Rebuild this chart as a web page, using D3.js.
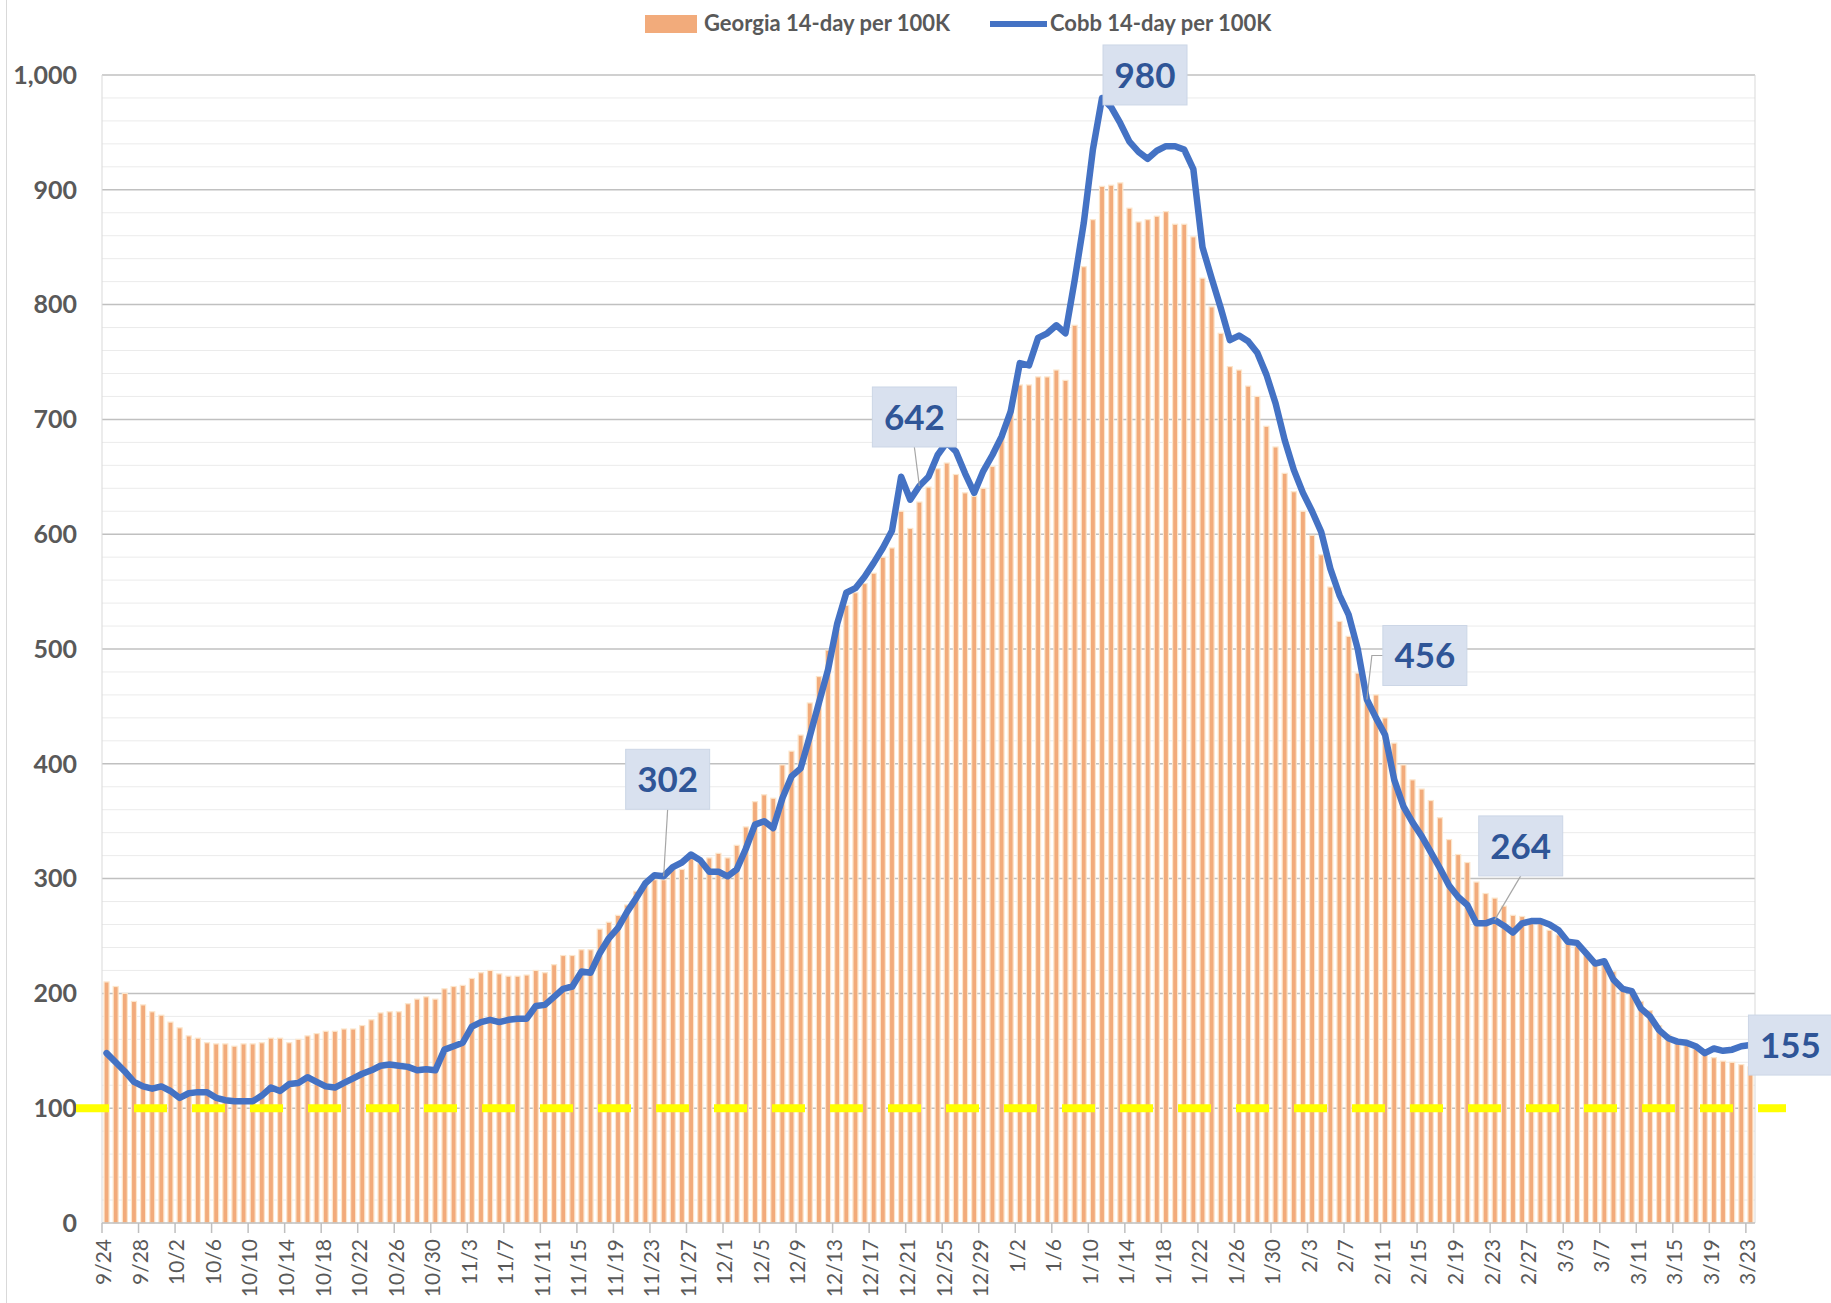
<!DOCTYPE html>
<html>
<head>
<meta charset="utf-8">
<script src="https://cdn.jsdelivr.net/npm/d3@7"></script>
<style>
  body { margin: 0; background: #fff; }
  svg { display: block; font-family: Lato, "Open Sans", sans-serif; }
</style>
</head>
<body>
<div id="chart"></div>
<script>
// categories: one per day, 9/24 to 3/23
const dates = d3.timeDay.range(new Date(2020, 8, 24), new Date(2021, 2, 24))
const fmt = d3.timeFormat("%-m/%-d")
const categories = dates.map(d => fmt(d))
// tick labels every 4 days
const tickIdx = d3.range(0, categories.length, 4)
const tickLabels = tickIdx.map(i => categories[i])
const yTicks = d3.range(0, 1001, 100)

// Georgia 14-day per 100K (bars)
const georgia = [
  210,206,200,193,190,184,181,175,170,163,
  161,157,156,156,154,156,156,157,161,161,
  157,160,163,165,167,167,169,169,172,177,
  183,184,184,191,195,197,195,204,206,207,
  213,218,220,217,215,215,216,220,218,225,
  233,233,238,238,256,262,268,277,289,296,
  299,299,308,308,321,313,318,322,318,329,
  345,367,373,370,399,411,425,453,476,499,
  517,538,549,557,566,580,588,620,605,628,
  641,657,662,652,636,633,640,659,684,708,
  730,730,737,737,743,734,782,833,874,903,
  904,906,884,872,874,877,881,870,870,859,
  823,798,775,746,743,729,720,694,676,653,
  637,620,599,582,554,524,511,479,459,460,
  440,418,399,386,378,368,353,334,321,314,
  297,287,283,276,268,267,263,261,255,251,
  245,241,235,229,225,219,206,203,193,185,
  172,164,158,155,152,147,144,141,140,138,
  136
]

// Cobb 14-day per 100K (line)
const cobb = [
  148,140,132,123,119,117,119,115,109,113,
  114,114,109,107,106,106,106,111,118,115,
  121,122,127,123,119,118,122,126,130,133,
  137,138,137,136,133,134,133,151,154,157,
  171,175,177,175,177,178,178,189,190,197,
  204,206,219,218,235,248,257,271,283,296,
  303,302,310,314,321,316,306,306,302,308,
  326,347,350,344,370,389,396,424,453,482,
  522,549,553,563,575,588,603,650,630,642,
  650,669,680,672,653,636,655,669,685,707,
  749,747,771,775,782,775,821,871,935,980,
  972,958,942,933,927,934,938,938,935,918,
  850,823,797,769,773,768,758,739,714,682,
  656,636,620,602,570,547,530,500,456,440,
  425,386,363,349,337,323,309,294,284,277,
  261,261,264,259,253,261,263,263,260,255,
  245,244,235,226,228,212,204,202,187,180,
  168,161,158,157,154,148,152,150,151,154,
  155
]

// threshold line
const threshold = 100
// indices of the labelled cobb points
const labelIdx = [61, 89, 109, 138, 152, 180]

// layout for the label boxes (offset of box centre from the point)
const boxLayout = {
  61:  { dx: 4,   dy: -97, leader: "bottom" },
  89:  { dx: -5,  dy: -69, leader: "bottom" },
  109: { dx: 43,  dy: -23, leader: null },
  138: { dx: 58,  dy: -44, leader: "left" },
  152: { dx: 26,  dy: -74, leader: "bottom" },
  180: { dx: 40,  dy: 0,   leader: null }
}

const W = 1831, H = 1303
const plot = { left: 102, right: 1755, top: 75, bottom: 1223 }
const barColor = "#F2AB7B"
const lineColor = "#4472C4"
const textColor = "#595959"

const svg = d3.select("#chart").append("svg")
    .attr("width", W)
    .attr("height", H)

svg.append("rect").attr("width", W).attr("height", H).attr("fill", "#fff")

// outer chart border (only the left edge shows)
svg.append("line")
    .attr("x1", 6.5).attr("x2", 6.5).attr("y1", 0).attr("y2", H)
    .attr("stroke", "#D9D9D9")

const x = d3.scaleBand()
    .domain(d3.range(categories.length))
    .range([plot.left, plot.right])
    .paddingInner(0.45)
    .paddingOuter(0.225)

const y = d3.scaleLinear()
    .domain([0, 1000])
    .range([plot.bottom, plot.top])

const step = x.step()
const cx = i => x(i) + x.bandwidth() / 2

// gridlines: minor every 20, major every 100
const minor = d3.range(20, 1000, 20).filter(v => v % 100 != 0)
svg.append("g").selectAll("line")
    .data(minor)
    .join("line")
    .attr("x1", plot.left).attr("x2", plot.right)
    .attr("y1", d => y(d)).attr("y2", d => y(d))
    .attr("stroke", "#EBEBEB")
    .attr("stroke-width", 1)

svg.append("g").selectAll("line")
    .data(yTicks.filter(v => v > 0))
    .join("line")
    .attr("x1", plot.left).attr("x2", plot.right)
    .attr("y1", d => y(d)).attr("y2", d => y(d))
    .attr("stroke", "#C0C0C0")
    .attr("stroke-width", 1.5)

// side borders
svg.append("line")
    .attr("x1", plot.left).attr("x2", plot.left)
    .attr("y1", plot.top).attr("y2", plot.bottom)
    .attr("stroke", "#D9D9D9")
svg.append("line")
    .attr("x1", plot.right).attr("x2", plot.right)
    .attr("y1", plot.top).attr("y2", plot.bottom)
    .attr("stroke", "#D9D9D9")

// bars
svg.append("g").selectAll("rect")
    .data(georgia)
    .join("rect")
    .attr("x", (d, i) => x(i))
    .attr("width", x.bandwidth())
    .attr("y", d => y(d))
    .attr("height", d => y(0) - y(d))
    .attr("fill", barColor)
    .attr("stroke", "#FCE6CC")
    .attr("stroke-width", 1.2)

// x axis line and ticks
svg.append("line")
    .attr("x1", plot.left).attr("x2", plot.right)
    .attr("y1", plot.bottom).attr("y2", plot.bottom)
    .attr("stroke", "#BFBFBF")
    .attr("stroke-width", 1.5)

svg.append("g").selectAll("line")
    .data(tickIdx)
    .join("line")
    .attr("x1", i => plot.left + i * step).attr("x2", i => plot.left + i * step)
    .attr("y1", plot.bottom).attr("y2", plot.bottom + 10)
    .attr("stroke", "#BFBFBF")
    .attr("stroke-width", 1.5)

svg.append("g").selectAll("text")
    .data(tickIdx)
    .join("text")
    .attr("transform", (i) => "translate(" + (plot.left + i * step + 2) + "," + (plot.bottom + 16) + ") rotate(-90)")
    .attr("dy", "0.35em")
    .attr("text-anchor", "end")
    .attr("font-size", 21)
    .attr("fill", textColor)
    .text((i, k) => tickLabels[k])

// y axis labels
svg.append("g").selectAll("text")
    .data(yTicks)
    .join("text")
    .attr("x", 77)
    .attr("y", d => y(d))
    .attr("dy", "0.35em")
    .attr("text-anchor", "end")
    .attr("font-size", 25)
    .attr("font-weight", "bold")
    .attr("fill", textColor)
    .text(d => d3.format(",")(d))

// yellow dashed threshold
svg.append("line")
    .attr("x1", 76).attr("x2", 1786)
    .attr("y1", y(threshold)).attr("y2", y(threshold))
    .attr("stroke", "#FFFF00")
    .attr("stroke-width", 8)
    .attr("stroke-dasharray", "33 25")

// cobb line
const line = d3.line()
    .x((d, i) => cx(i))
    .y(d => y(d))

svg.append("path")
    .datum(cobb)
    .attr("d", line)
    .attr("fill", "none")
    .attr("stroke", lineColor)
    .attr("stroke-width", 6.5)
    .attr("stroke-linejoin", "round")
    .attr("stroke-linecap", "round")

// label boxes with leader lines
const bw = 84, bh = 60
const labels = svg.append("g")
labelIdx.forEach(i => {
    const L = boxLayout[i]
    const px = cx(i), py = y(cobb[i])
    const bx = px + L.dx, by = py + L.dy
    if (L.leader == "bottom") {
        labels.append("line")
            .attr("x1", bx).attr("y1", by + bh / 2)
            .attr("x2", px).attr("y2", py)
            .attr("stroke", "#A6A6A6").attr("stroke-width", 1.2)
    } else if (L.leader == "left") {
        labels.append("polyline")
            .attr("points", [[px, py], [px + 5, by], [bx - bw / 2, by]].map(p => p.join(",")).join(" "))
            .attr("fill", "none")
            .attr("stroke", "#A6A6A6").attr("stroke-width", 1.2)
    }
    labels.append("rect")
        .attr("x", bx - bw / 2).attr("y", by - bh / 2)
        .attr("width", bw).attr("height", bh)
        .attr("fill", "#D9E1EF")
        .attr("stroke", "#CCD6E6")
    labels.append("text")
        .attr("x", bx).attr("y", by)
        .attr("dy", "0.36em")
        .attr("text-anchor", "middle")
        .attr("font-size", 35)
        .attr("font-weight", "bold")
        .attr("fill", "#2F5597")
        .text(cobb[i])
})

// legend
const legend = svg.append("g").attr("font-size", 22).attr("font-weight", "bold").attr("fill", textColor)
legend.append("rect")
    .attr("x", 645).attr("y", 15).attr("width", 52).attr("height", 18)
    .attr("fill", barColor)
legend.append("text").attr("x", 704).attr("y", 31).text("Georgia 14-day per 100K")
legend.append("line")
    .attr("x1", 990).attr("x2", 1047).attr("y1", 24).attr("y2", 24)
    .attr("stroke", lineColor).attr("stroke-width", 6)
legend.append("text").attr("x", 1050).attr("y", 31).text("Cobb 14-day per 100K")
</script>
</body>
</html>
